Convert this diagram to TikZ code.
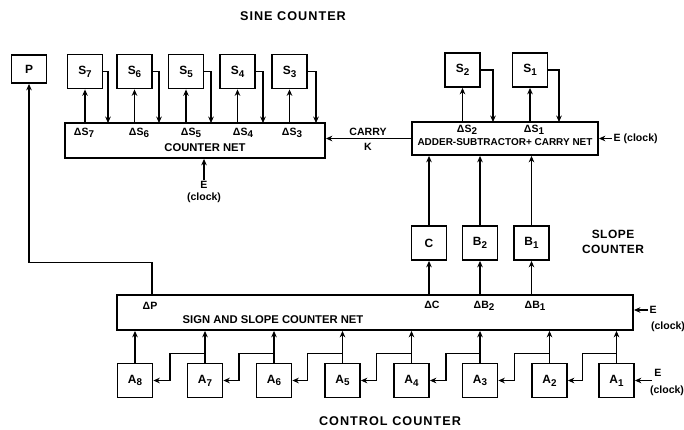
\documentclass[tikz,border=0pt]{standalone}
\usepackage{fontspec}
\setmainfont{Liberation Sans}
\usetikzlibrary{arrows.meta, positioning}

\newcommand{\subidx}[1]{\raisebox{-0.45ex}{\fontsize{7}{7}\selectfont #1}}

\begin{document}
\begin{tikzpicture}[
    x=0.025cm, y=-0.025cm,
    every node/.style={font=\bfseries\fontsize{8}{9}\selectfont},
    reg/.style={rectangle, draw, line width=1.3pt, minimum width=0.875cm, minimum height=0.85cm, inner sep=0pt, font=\bfseries\fontsize{8.5}{9}\selectfont},
    net/.style={rectangle, draw, line width=1.3pt, inner sep=0pt},
    arrow/.style={-{Stealth[length=1.6mm, width=1.4mm]}, line width=1pt},
    lbl/.style={font=\bfseries\fontsize{7.5}{8}\selectfont, inner sep=1pt},
    title/.style={font=\bfseries\fontsize{9}{11}\selectfont\addfontfeature{LetterSpace=8}, align=center}
]
\useasboundingbox (0,0) rectangle (684,429);

% Titles
\node[title] (sinettl) at (293,16) {SINE COUNTER};
\node[title, font=\bfseries\fontsize{8.5}{11}\selectfont\addfontfeature{LetterSpace=4}] (slopettl) at (613,242) {SLOPE\\COUNTER};
\node[title] (ctrlttl) at (390,421) {CONTROL COUNTER};

% ============ SINE COUNTER ============
\node[net, minimum width=6.5cm, minimum height=0.875cm] (cnet) at (195,140.5) {};
\node (cnetlbl) at (205,148) {COUNTER NET};

\node[reg, minimum height=0.7cm] (p) at (29,69) {P};
\node[reg] (s7) at (85,71.5) {S\subidx{7}};
\node[reg] (s6) at (134.5,71.5) {S\subidx{6}};
\node[reg] (s5) at (186,71.5) {S\subidx{5}};
\node[reg] (s4) at (237.5,71.5) {S\subidx{4}};
\node[reg] (s3) at (289.5,71.5) {S\subidx{3}};

\node[lbl] (ds7) at (84,133) {ΔS\subidx{7}};
\node[lbl] (ds6) at (139,133) {ΔS\subidx{6}};
\node[lbl] (ds5) at (191,133) {ΔS\subidx{5}};
\node[lbl] (ds4) at (243,133) {ΔS\subidx{4}};
\node[lbl] (ds3) at (292,133) {ΔS\subidx{3}};

% delta outputs up to the registers
\draw[arrow] (s7.south |- cnet.north) -- (s7.south);
\draw[arrow] (s6.south |- cnet.north) -- (s6.south);
\draw[arrow] (s5.south |- cnet.north) -- (s5.south);
\draw[arrow] (s4.south |- cnet.north) -- (s4.south);
\draw[arrow] (s3.south |- cnet.north) -- (s3.south);

% register contents back to the net
\coordinate (s7in) at (108,123);
\coordinate (s6in) at (159,123);
\coordinate (s5in) at (211,123);
\coordinate (s4in) at (263,123);
\coordinate (s3in) at (316,123);
\draw[arrow] (s7.east) -| (s7in);
\draw[arrow] (s6.east) -| (s6in);
\draw[arrow] (s5.east) -| (s5in);
\draw[arrow] (s4.east) -| (s4in);
\draw[arrow] (s3.east) -| (s3in);

% clock
\coordinate (ecnt) at (204,180);
\draw[arrow] (ecnt) -- (ecnt |- cnet.south);
\node[lbl, below=0pt of ecnt, align=center] (ecntlbl) {E\\(clock)};

% ============ ADDER-SUBTRACTOR ============
\node[net, minimum width=4.65cm, minimum height=0.825cm] (adder) at (505,138.5) {};
\node[font=\bfseries\fontsize{7.1}{8}\selectfont] (adderlbl) at (505,142) {ADDER-SUBTRACTOR+ CARRY NET};

\node[reg] (s2) at (462.5,70) {S\subidx{2}};
\node[reg] (s1) at (530,70) {S\subidx{1}};
\node[lbl] (ds2) at (467,130) {ΔS\subidx{2}};
\node[lbl] (ds1) at (534,130) {ΔS\subidx{1}};

\draw[arrow] (s2.south |- adder.north) -- (s2.south);
\draw[arrow] (s1.south |- adder.north) -- (s1.south);
\coordinate (s2in) at (493,122);
\coordinate (s1in) at (559,122);
\draw[arrow] (s2.east) -| (s2in);
\draw[arrow] (s1.east) -| (s1in);

% carry into the counter net
\draw[arrow] (adder.west) -- (adder.west -| cnet.east);
\node[lbl] (carry) at (368,132) {CARRY};
\node[lbl] (carryk) at (368,147) {K};

\coordinate (eadd) at (612,138.5);
\draw[arrow] (eadd) -- (adder.east);
\node[lbl, right=0pt of eadd] (eaddlbl) {E (clock)};

% ============ SLOPE COUNTER ============
\node[net, minimum width=12.9cm, minimum height=0.875cm] (snet) at (375,312.5) {};
\node (snetlbl) at (273,320) {SIGN AND SLOPE COUNTER NET};

\node[reg] (c) at (429,243) {C};
\node[reg] (b2) at (480,243) {B\subidx{2}};
\node[reg] (b1) at (531.5,243) {B\subidx{1}};

\draw[arrow] (c.north) -- (c.north |- adder.south);
\draw[arrow] (b2.north) -- (b2.north |- adder.south);
\draw[arrow] (b1.north) -- (b1.north |- adder.south);
\draw[arrow] (c.south |- snet.north) -- (c.south);
\draw[arrow] (b2.south |- snet.north) -- (b2.south);
\draw[arrow] (b1.south |- snet.north) -- (b1.south);

\node[lbl] (dc) at (432,305) {ΔC};
\node[lbl] (db2) at (484,306) {ΔB\subidx{2}};
\node[lbl] (db1) at (535,306) {ΔB\subidx{1}};
\node[lbl] (dp) at (150,306) {ΔP};

% sign bit up to P
\coordinate (pout) at (152,295.5);
\draw[arrow] (pout) -- ++(0,-33) -| (p.south);

\coordinate (esgn) at (648,310);
\draw[arrow] (esgn) -- (esgn -| snet.east);
\node[lbl, anchor=west] (esgnlbl) at (esgn) {E};
\node[lbl] (esgnclk) at (668,327) {(clock)};

% ============ CONTROL COUNTER ============
\node[reg] (a8) at (135,380.5) {A\subidx{8}};
\node[reg] (a7) at (205,380.5) {A\subidx{7}};
\node[reg] (a6) at (274,380.5) {A\subidx{6}};
\node[reg] (a5) at (342.5,380.5) {A\subidx{5}};
\node[reg] (a4) at (411.5,380.5) {A\subidx{4}};
\node[reg] (a3) at (480,380.5) {A\subidx{3}};
\node[reg] (a2) at (549.5,380.5) {A\subidx{2}};
\node[reg] (a1) at (616.5,380.5) {A\subidx{1}};

\draw[arrow] (a8.north) -- (a8.north |- snet.south);
\draw[arrow] (a7.north) -- (a7.north |- snet.south);
\draw[arrow] (a6.north) -- (a6.north |- snet.south);
\draw[arrow] (a5.north) -- (a5.north |- snet.south);
\draw[arrow] (a4.north) -- (a4.north |- snet.south);
\draw[arrow] (a3.north) -- (a3.north |- snet.south);
\draw[arrow] (a2.north) -- (a2.north |- snet.south);
\draw[arrow] (a1.north) -- (a1.north |- snet.south);

% carry chain between stages
\draw[arrow] (a7.north) ++(0,-9) -- ++(-35,0) |- (a8.east);
\draw[arrow] (a6.north) ++(0,-9) -- ++(-35,0) |- (a7.east);
\draw[arrow] (a5.north) ++(0,-9) -- ++(-35,0) |- (a6.east);
\draw[arrow] (a4.north) ++(0,-9) -- ++(-35,0) |- (a5.east);
\draw[arrow] (a3.north) ++(0,-9) -- ++(-34,0) |- (a4.east);
\draw[arrow] (a2.north) ++(0,-9) -- ++(-35,0) |- (a3.east);
\draw[arrow] (a1.north) ++(0,-9) -- ++(-34,0) |- (a2.east);

\coordinate (ea1) at (652,380.5);
\draw[arrow] (ea1) -- (a1.east);
\node[lbl] (ea1lbl) at (658,373) {E};
\node[lbl] (ea1clk) at (667,391) {(clock)};

\end{tikzpicture}
\end{document}
